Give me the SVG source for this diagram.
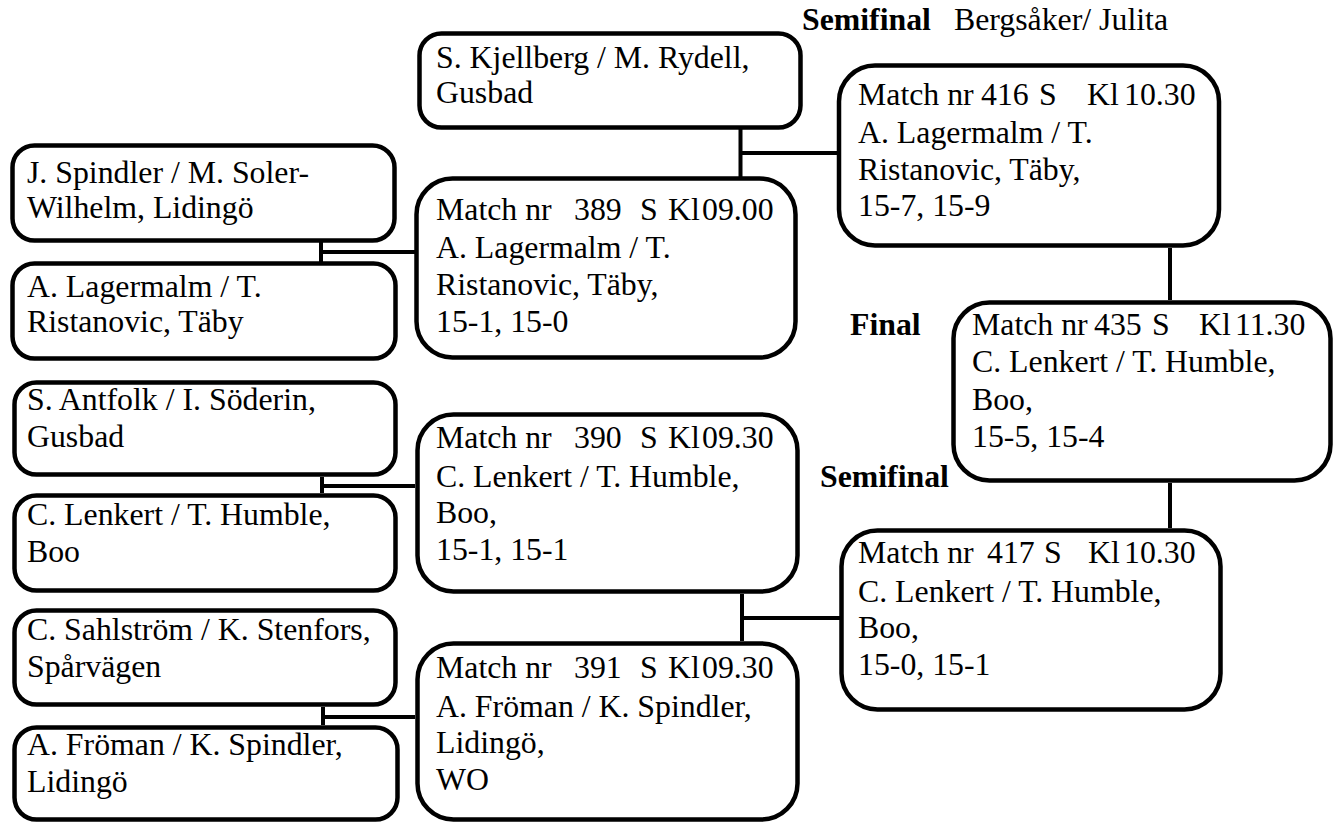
<svg xmlns="http://www.w3.org/2000/svg" width="1335" height="824" viewBox="0 0 1335 824">
<style>
.box{fill:#fff;stroke:#000;stroke-width:4.5}
text{font-family:'Liberation Serif','DejaVu Serif',serif;font-size:31.8px;fill:#000}
.b{font-weight:bold}
.ln{fill:none;stroke:#000;stroke-width:4}
</style>
<rect width="1335" height="824" fill="#fff"/>
<g id="connectors">
<path class="ln" d="M321 242V262M321 252H415"/>
<path class="ln" d="M322 477V493M322 486H415"/>
<path class="ln" d="M323 707V725M323 717H415"/>
<path class="ln" d="M740.5 129V177M740.5 153H837"/>
<path class="ln" d="M742 594V641M742 618H840"/>
<path class="ln" d="M1170 248V300"/>
<path class="ln" d="M1170 483V528"/>
</g>
<g id="labels">
<text class="b" x="802" y="30">Semifinal</text>
<text x="954" y="30">Bergsåker/ Julita</text>
<text class="b" x="850" y="335">Final</text>
<text class="b" x="820" y="487">Semifinal</text>
</g>
<g id="kjellberg">
<rect class="box" x="419.5" y="33.5" width="381" height="94" rx="22"/>
<text x="436" y="68">S. Kjellberg / M. Rydell,</text>
<text x="436" y="103">Gusbad</text>
</g>
<g id="spindler">
<rect class="box" x="12.5" y="145.5" width="382" height="95" rx="22"/>
<text x="27" y="183">J. Spindler / M. Soler-</text>
<text x="27" y="218">Wilhelm, Lidingö</text>
</g>
<g id="lagermalm">
<rect class="box" x="12.5" y="263.5" width="383" height="95" rx="22"/>
<text x="27" y="297">A. Lagermalm / T.</text>
<text x="27" y="332">Ristanovic, Täby</text>
</g>
<g id="antfolk">
<rect class="box" x="14.5" y="382.5" width="381" height="92" rx="22"/>
<text x="27" y="410">S. Antfolk / I. Söderin,</text>
<text x="27" y="447">Gusbad</text>
</g>
<g id="lenkert">
<rect class="box" x="14.5" y="495.5" width="381" height="95" rx="22"/>
<text x="27" y="525">C. Lenkert / T. Humble,</text>
<text x="27" y="562">Boo</text>
</g>
<g id="sahlstrom">
<rect class="box" x="14.5" y="610.5" width="381" height="94" rx="22"/>
<text x="27" y="640">C. Sahlström / K. Stenfors,</text>
<text x="27" y="677">Spårvägen</text>
</g>
<g id="froman">
<rect class="box" x="14.5" y="727.5" width="383" height="92" rx="22"/>
<text x="27" y="755">A. Fröman / K. Spindler,</text>
<text x="27" y="792">Lidingö</text>
</g>
<g id="m389">
<rect class="box" x="416.5" y="178.5" width="379" height="179" rx="36"/>
<text y="220"><tspan x="436">Match nr</tspan><tspan x="574">389</tspan><tspan x="640">S</tspan><tspan x="668">Kl</tspan><tspan x="702">09.00</tspan></text>
<text x="436" y="258">A. Lagermalm / T.</text>
<text x="436" y="295">Ristanovic, Täby,</text>
<text x="436" y="332">15-1, 15-0</text>
</g>
<g id="m390">
<rect class="box" x="417.5" y="414.5" width="380" height="177" rx="36"/>
<text y="448"><tspan x="436">Match nr</tspan><tspan x="574">390</tspan><tspan x="640">S</tspan><tspan x="668">Kl</tspan><tspan x="702">09.30</tspan></text>
<text x="436" y="487">C. Lenkert / T. Humble,</text>
<text x="436" y="523">Boo,</text>
<text x="436" y="560">15-1, 15-1</text>
</g>
<g id="m391">
<rect class="box" x="417.5" y="643.5" width="380" height="176" rx="36"/>
<text y="678"><tspan x="436">Match nr</tspan><tspan x="574">391</tspan><tspan x="640">S</tspan><tspan x="668">Kl</tspan><tspan x="702">09.30</tspan></text>
<text x="436" y="717">A. Fröman / K. Spindler,</text>
<text x="436" y="753">Lidingö,</text>
<text x="436" y="790">WO</text>
</g>
<g id="m416">
<rect class="box" x="839" y="65.5" width="380" height="180" rx="36"/>
<text y="105"><tspan x="858">Match nr</tspan><tspan x="981">416</tspan><tspan x="1039">S</tspan><tspan x="1087">Kl</tspan><tspan x="1124">10.30</tspan></text>
<text x="858" y="143">A. Lagermalm / T.</text>
<text x="858" y="180">Ristanovic, Täby,</text>
<text x="858" y="216">15-7, 15-9</text>
</g>
<g id="m435">
<rect class="box" x="953.5" y="302.5" width="377" height="178" rx="36"/>
<text y="335"><tspan x="972">Match nr</tspan><tspan x="1094">435</tspan><tspan x="1152">S</tspan><tspan x="1199">Kl</tspan><tspan x="1235">11.30</tspan></text>
<text x="972" y="372">C. Lenkert / T. Humble,</text>
<text x="972" y="410">Boo,</text>
<text x="972" y="447">15-5, 15-4</text>
</g>
<g id="m417">
<rect class="box" x="841.5" y="530.5" width="379" height="179" rx="36"/>
<text y="563"><tspan x="858">Match nr</tspan><tspan x="987">417</tspan><tspan x="1044">S</tspan><tspan x="1088">Kl</tspan><tspan x="1124">10.30</tspan></text>
<text x="858" y="602">C. Lenkert / T. Humble,</text>
<text x="858" y="638">Boo,</text>
<text x="858" y="675">15-0, 15-1</text>
</g>
</svg>
